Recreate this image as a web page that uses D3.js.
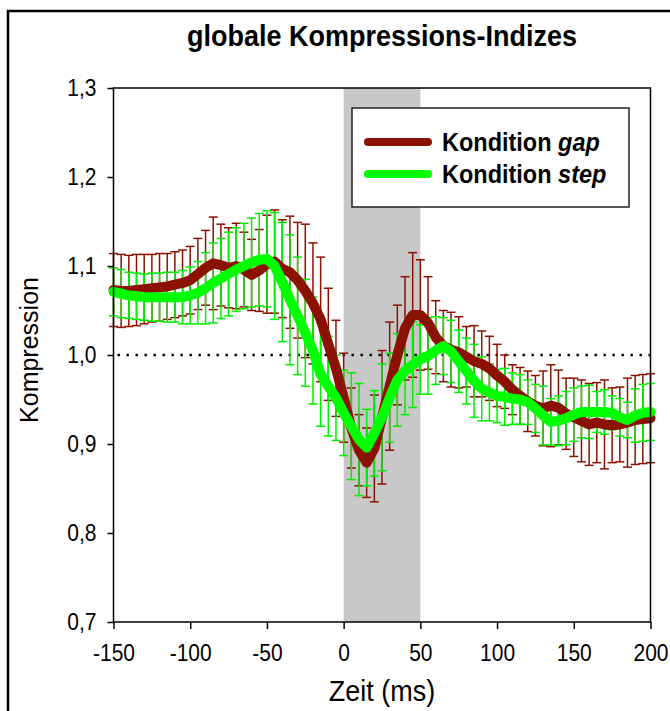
<!DOCTYPE html>
<html>
<head>
<meta charset="utf-8">
<script src="https://cdn.jsdelivr.net/npm/d3@7"></script>
<style>
body{margin:0;background:#fff;}
text{font-family:Arial,"Liberation Sans",sans-serif;fill:#000;}
.hoch{transform-box:fill-box;transform-origin:center;transform:scaleY(1.12);}
</style>
</head>
<body>
<svg id="chart" width="670" height="711"></svg>
<script>
// Zeitpunkte (ms)
const zeit = [-150,-145,-140,-135,-130,-125,-120,-115,-110,-105,-100,
  -95,-90,-85,-80,-75,-70,-65,-60,-55,-50,
  -45,-40,-35,-30,-25,-20,-15,-10,-5,0,
  5,10,15,20,25,30,35,40,45,50,
  55,60,65,70,75,80,85,90,95,100,
  105,110,115,120,125,130,135,140,145,150,
  155,160,165,170,175,180,185,190,195,200];

// Kondition gap
const gapMittel = [1.073,1.072,1.072,1.073,1.074,1.075,1.076,1.077,1.079,1.081,1.084,
  1.091,1.098,1.103,1.101,1.098,1.100,1.096,1.090,1.095,1.102,
  1.105,1.097,1.093,1.084,1.072,1.058,1.040,1.012,0.985,0.952,
  0.918,0.893,0.879,0.895,0.930,0.965,1.000,1.030,1.045,1.045,
  1.036,1.020,1.010,1.006,1.003,0.998,0.993,0.990,0.985,0.977,
  0.970,0.961,0.954,0.948,0.943,0.940,0.943,0.941,0.934,0.930,
  0.926,0.922,0.924,0.922,0.921,0.922,0.924,0.927,0.928,0.929];
const gapFehler = [0.041,0.041,0.040,0.040,0.039,0.038,0.038,0.037,0.037,0.037,0.038,
  0.040,0.042,0.052,0.046,0.045,0.048,0.042,0.040,0.046,0.055,
  0.058,0.055,0.063,0.065,0.075,0.068,0.070,0.063,0.054,0.050,
  0.045,0.040,0.039,0.060,0.075,0.072,0.056,0.058,0.070,0.062,
  0.052,0.041,0.040,0.042,0.040,0.034,0.040,0.037,0.036,0.035,
  0.030,0.028,0.032,0.034,0.034,0.042,0.046,0.042,0.040,0.044,
  0.046,0.046,0.045,0.050,0.042,0.042,0.050,0.050,0.050,0.050];

// Kondition step
const stepMittel = [1.071,1.069,1.067,1.066,1.065,1.065,1.065,1.065,1.065,1.065,1.067,
  1.070,1.075,1.081,1.086,1.091,1.096,1.100,1.104,1.107,1.108,
  1.100,1.082,1.062,1.044,1.025,1.005,0.978,0.965,0.952,0.935,
  0.920,0.905,0.896,0.912,0.930,0.952,0.972,0.982,0.989,0.995,
  0.999,1.005,1.010,1.004,0.993,0.982,0.971,0.962,0.958,0.954,
  0.953,0.951,0.950,0.947,0.940,0.932,0.925,0.926,0.929,0.933,
  0.936,0.936,0.936,0.936,0.935,0.930,0.927,0.932,0.935,0.936];
const stepFehler = [0.027,0.027,0.026,0.026,0.026,0.027,0.027,0.028,0.028,0.030,0.032,
  0.035,0.040,0.045,0.045,0.047,0.047,0.048,0.050,0.052,0.054,
  0.060,0.067,0.073,0.066,0.060,0.060,0.058,0.056,0.048,0.048,
  0.060,0.063,0.043,0.048,0.060,0.050,0.052,0.049,0.048,0.039,
  0.043,0.038,0.032,0.035,0.035,0.037,0.041,0.036,0.032,0.030,
  0.032,0.029,0.028,0.025,0.027,0.033,0.026,0.028,0.030,0.030,
  0.029,0.030,0.023,0.025,0.019,0.021,0.020,0.030,0.032,0.032];

const xTicks = [-150,-100,-50,0,50,100,150,200];
const yTicks = [0.7,0.8,0.9,1.0,1.1,1.2,1.3];
const zielBereich = [0,50];

const svg = d3.select("#chart");
const links = 113.5, rechts = 650.5, oben = 88, unten = 622;

const x = d3.scaleLinear().domain([-150,200]).range([links,rechts]);
const y = d3.scaleLinear().domain([0.7,1.3]).range([unten,oben]);

// aeusserer Rahmen
svg.append("rect")
  .attr("x",8).attr("y",11).attr("width",720).attr("height",760)
  .attr("fill","none").attr("stroke","#000").attr("stroke-width",2.5);

// grauer Bereich
svg.append("rect")
  .attr("x",x(zielBereich[0])).attr("y",oben)
  .attr("width",x(zielBereich[1])-x(zielBereich[0]))
  .attr("height",unten-oben)
  .attr("fill","#c8c8c8");

// gepunktete Linie bei 1,0
svg.append("line")
  .attr("x1",links+4).attr("x2",rechts).attr("y1",y(1)).attr("y2",y(1))
  .attr("stroke","#000").attr("stroke-width",2.4)
  .attr("stroke-dasharray","2.4 6.6");

function fehlerbalken(mittel,fehler,farbe){
  const g = svg.append("g").attr("stroke",farbe).attr("stroke-width",1.5);
  zeit.forEach(function(t,i){
    const xi = x(t), y1 = y(mittel[i]+fehler[i]), y2 = y(mittel[i]-fehler[i]);
    g.append("line").attr("x1",xi).attr("x2",xi).attr("y1",y1).attr("y2",y2);
    g.append("line").attr("x1",xi-4.5).attr("x2",xi+4.5).attr("y1",y1).attr("y2",y1);
    g.append("line").attr("x1",xi-4.5).attr("x2",xi+4.5).attr("y1",y2).attr("y2",y2);
  });
}

const linie = d3.line()
  .x(function(d){ return x(d[0]); })
  .y(function(d){ return y(d[1]); });

fehlerbalken(gapMittel,gapFehler,"#8b1200");
fehlerbalken(stepMittel,stepFehler,"#00f000");

svg.append("path")
  .attr("d",linie(zeit.map(function(t,i){ return [t,gapMittel[i]]; })))
  .attr("fill","none").attr("stroke","#8b1200").attr("stroke-width",10)
  .attr("stroke-linejoin","round").attr("stroke-linecap","round");

svg.append("path")
  .attr("d",linie(zeit.map(function(t,i){ return [t,stepMittel[i]]; })))
  .attr("fill","none").attr("stroke","#00ff00").attr("stroke-width",10)
  .attr("stroke-linejoin","round").attr("stroke-linecap","round");

// Rahmen des Diagramms
svg.append("rect")
  .attr("x",links).attr("y",oben).attr("width",rechts-links).attr("height",unten-oben)
  .attr("fill","none").attr("stroke","#000").attr("stroke-width",1.5);

const yAxis = d3.axisLeft(y).tickValues(yTicks).tickSize(6).tickPadding(11)
  .tickFormat(function(d){ return d.toFixed(1).replace(".",","); });
const gy = svg.append("g").attr("transform","translate("+links+",0)").call(yAxis);
gy.select(".domain").remove();
gy.selectAll("line").attr("stroke-width",1.5);
gy.selectAll("text").attr("font-size",21).attr("font-family",null).attr("class","hoch");

const xAxis = d3.axisBottom(x).tickValues(xTicks).tickSize(7).tickPadding(16)
  .tickFormat(function(d){ return String(d); });
const gx = svg.append("g").attr("transform","translate(0,"+unten+")").call(xAxis);
gx.select(".domain").remove();
gx.selectAll("line").attr("stroke-width",1.5);
gx.selectAll("text").attr("font-size",21).attr("font-family",null).attr("class","hoch");

// Titel und Achsentitel
svg.append("text")
  .attr("class","hoch")
  .attr("x",(links+rechts)/2).attr("y",45)
  .attr("text-anchor","middle").attr("font-size",27).attr("font-weight","bold")
  .text("globale Kompressions-Indizes");

svg.append("text")
  .attr("class","hoch")
  .attr("x",(links+rechts)/2).attr("y",700)
  .attr("text-anchor","middle").attr("font-size",27)
  .text("Zeit (ms)");

svg.append("text")
  .attr("transform","translate(38,350) rotate(-90)")
  .attr("text-anchor","middle").attr("font-size",25)
  .text("Kompression");

// Legende
const leg = svg.append("g");
leg.append("rect")
  .attr("x",352).attr("y",108).attr("width",277).attr("height",99)
  .attr("fill","#fff").attr("stroke","#222").attr("stroke-width",1.5);
const eintraege = [["gap","#8b1200"],["step","#00ff00"]];
eintraege.forEach(function(e,i){
  const yy = 142 + i*32;
  leg.append("line")
    .attr("x1",368).attr("x2",428).attr("y1",yy).attr("y2",yy)
    .attr("stroke",e[1]).attr("stroke-width",8).attr("stroke-linecap","round");
  const t = leg.append("text").attr("class","hoch").attr("x",442).attr("y",yy+8)
    .attr("font-size",23.5).attr("font-weight","bold");
  t.append("tspan").text("Kondition ");
  t.append("tspan").attr("font-style","italic").text(e[0]);
});
</script>
</body>
</html>
